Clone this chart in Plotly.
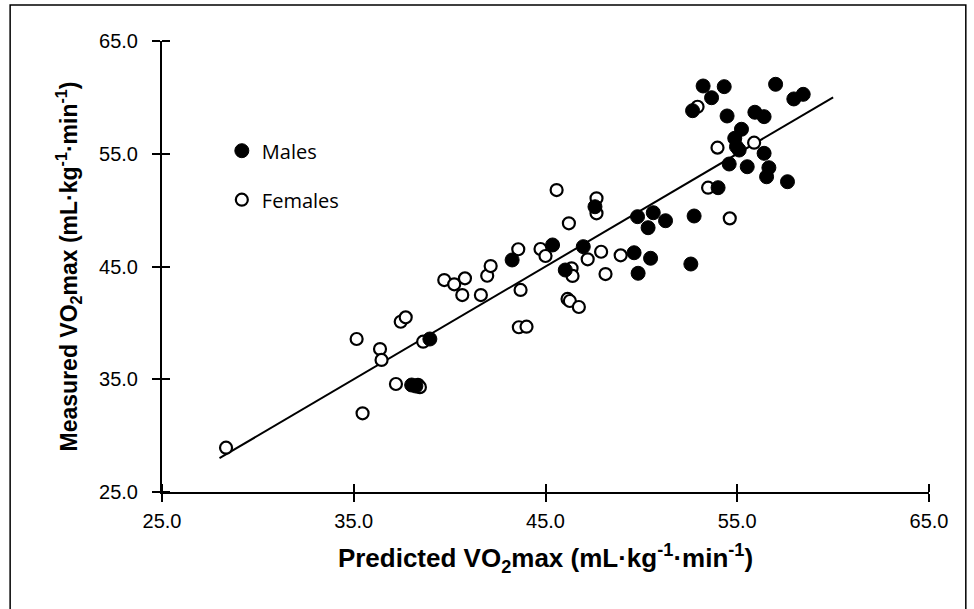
import plotly.graph_objects as go

# ---- data ----
male_pred = [38.02, 38.24, 38.97, 43.26, 45.37, 46.03, 46.97, 47.58, 49.62, 50.48,
             49.83, 49.80, 50.62, 50.35, 51.26, 52.75, 52.58, 53.22, 54.32, 53.66,
             52.67, 57.00, 57.95, 58.44, 54.47, 55.92, 56.40, 55.22, 54.87, 54.96,
             55.10, 56.40, 54.58, 55.52, 56.65, 56.53, 57.62, 54.00]
male_meas = [34.49, 34.40, 38.57, 45.58, 46.91, 44.69, 46.76, 50.30, 46.22, 45.73,
             44.40, 49.42, 49.77, 48.44, 49.06, 49.48, 45.22, 61.01, 60.95, 59.97,
             58.82, 61.16, 59.86, 60.27, 58.35, 58.68, 58.29, 57.17, 56.37, 55.63,
             55.33, 55.04, 54.09, 53.85, 53.76, 52.96, 52.52, 51.99]

female_pred = [28.34, 35.15, 35.46, 36.37, 36.45, 37.20, 38.35, 38.45, 37.45, 37.71,
               38.62, 39.72, 40.24, 40.80, 40.66, 41.63, 41.96, 42.14, 43.58, 43.70,
               43.61, 44.01, 44.74, 45.00, 45.58, 46.22, 46.36, 46.41, 46.15, 46.27,
               46.74, 47.20, 47.90, 48.13, 47.66, 47.66, 48.92, 54.61, 52.93, 53.97,
               55.88, 53.48]
female_meas = [28.93, 38.57, 31.98, 37.68, 36.71, 34.58, 34.50, 34.30, 40.10, 40.49,
               38.33, 43.80, 43.42, 43.95, 42.47, 42.47, 44.18, 45.04, 46.53, 42.92,
               39.61, 39.66, 46.55, 45.93, 51.78, 48.83, 44.84, 44.16, 42.12, 41.94,
               41.41, 45.64, 46.31, 44.33, 51.05, 49.72, 45.99, 49.27, 59.17, 55.54,
               55.98, 51.99]

identity_x = [28.0, 60.0]
identity_y = [28.0, 60.0]

axis_range = [25, 65]
tick_vals = [25, 35, 45, 55, 65]
tick_text = ["25.0", "35.0", "45.0", "55.0", "65.0"]

FONT = "Liberation Sans, Arial, sans-serif"

fig = go.Figure()

fig.add_trace(go.Scatter(
    x=identity_x, y=identity_y, mode="lines",
    line=dict(color="black", width=2), showlegend=False, hoverinfo="skip"))

fig.add_trace(go.Scatter(
    x=female_pred, y=female_meas, mode="markers", name="Females",
    legendgroup="f", legendrank=2,
    marker=dict(symbol="circle", size=12, color="white",
                line=dict(color="black", width=2.2))))

fig.add_trace(go.Scatter(
    x=male_pred, y=male_meas, mode="markers", name="Males",
    legendgroup="m", legendrank=1,
    marker=dict(symbol="circle", size=14, color="black",
                line=dict(color="black", width=1))))

# inward half of the crossing tick marks: minor ticks at (almost) the major positions
cross_vals = [v + 1e-4 for v in tick_vals]

axis_common = dict(
    range=axis_range, tickvals=tick_vals, ticktext=tick_text,
    showgrid=False, zeroline=False, showline=True, linecolor="black", linewidth=2,
    ticks="outside", ticklen=8, tickwidth=2, tickcolor="black",
    tickfont=dict(family=FONT, size=20, color="black"),
    minor=dict(tickvals=cross_vals, ticks="inside", ticklen=8, tickwidth=2,
               tickcolor="black", showgrid=False),
)

fig.update_layout(
    width=974, height=609,
    margin=dict(l=162, r=45, t=41, b=117),
    paper_bgcolor="white", plot_bgcolor="white",
    xaxis=dict(**axis_common, ticklabelstandoff=2,
               title=dict(text="<b>Predicted VO<sub>2</sub>max (mL·kg<sup>-1</sup>·min<sup>-1</sup>)</b>",
                          font=dict(family=FONT, size=26, color="black"),
                          standoff=18)),
    yaxis=dict(**axis_common, ticklabelstandoff=10,
               title=dict(text="<b>Measured VO<sub>2</sub>max (mL·kg<sup>-1</sup>·min<sup>-1</sup>)</b>",
                          font=dict(family=FONT, size=23, color="black"),
                          standoff=15)),
    legend=dict(x=0.078, y=0.80, xanchor="left", yanchor="top",
                font=dict(family="Open Sans, sans-serif", size=20, color="black"),
                traceorder="grouped", tracegroupgap=20, bgcolor="rgba(0,0,0,0)",
                itemsizing="trace"),
    showlegend=True,
)

fig.add_shape(type="rect", xref="paper", yref="paper",
              x0=-0.198, x1=1.048, y0=-0.27, y1=1.08,
              line=dict(color="black", width=1.5), fillcolor="rgba(0,0,0,0)", layer="below")

fig.write_html("out.html", config={"displayModeBar": False},
               post_script="document.body.style.margin='0';")
